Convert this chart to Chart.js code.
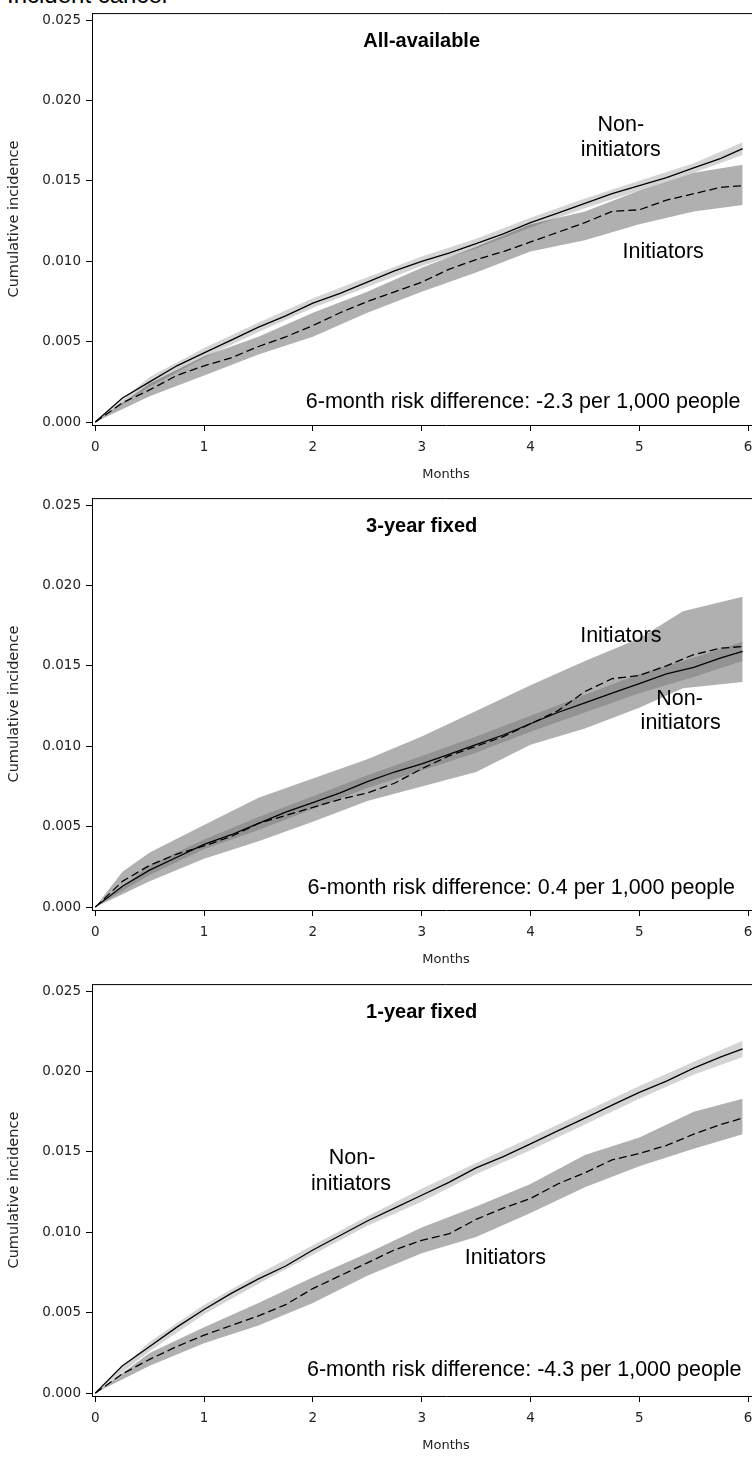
<!DOCTYPE html>
<html>
<head>
<meta charset="utf-8">
<script src="https://cdn.jsdelivr.net/npm/chart.js@4.4.2/dist/chart.umd.min.js"></script>
<style>
    html, body { margin: 0; padding: 0; background: #fff; }
    body { width: 752px; height: 1459px; overflow: hidden; position: relative; }
    .page-title {
        position: absolute; left: 7px; top: -17px;
        font: 24px "Liberation Sans", Arial, sans-serif; line-height: 24px;
        color: #000; white-space: nowrap;
    }
    .panel { position: absolute; left: 0; width: 830px; height: 482px; }
</style>
</head>
<body>
<div class="page-title">Incident cancer</div>
<div class="panel" style="top:0"><canvas id="chart-all" width="830" height="482"></canvas></div>
<div class="panel" style="top:485px"><canvas id="chart-3y" width="830" height="482"></canvas></div>
<div class="panel" style="top:971px"><canvas id="chart-1y" width="830" height="482"></canvas></div>
<script>
// --- données ---
const xTicks = [0, 1, 2, 3, 4, 5, 6];
const yTicks = [0, 0.005, 0.010, 0.015, 0.020, 0.025];

const lineMonths = [0, 0.25, 0.5, 0.75, 1, 1.25, 1.5, 1.75, 2, 2.25, 2.5, 2.75, 3, 3.25, 3.5, 3.75, 4, 4.25, 4.5, 4.75, 5, 5.25, 5.5, 5.75, 5.95];
const bandMonths = [0, 0.5, 1, 1.5, 2, 2.5, 3, 3.5, 4, 4.5, 5, 5.5, 5.95];

// All-available
const allNonInit = [0, 0.0015, 0.0025, 0.0035, 0.0043, 0.0051, 0.0059, 0.0066, 0.0074, 0.0080, 0.0087, 0.0094, 0.0100, 0.0105, 0.0111, 0.0117, 0.0124, 0.0130, 0.0136, 0.0142, 0.0147, 0.0152, 0.0158, 0.0164, 0.0170];
const allInit = [0, 0.0012, 0.0020, 0.0029, 0.0035, 0.0040, 0.0047, 0.0053, 0.0060, 0.0068, 0.0075, 0.0081, 0.0087, 0.0095, 0.0101, 0.0106, 0.0112, 0.0118, 0.0124, 0.0131, 0.0132, 0.0138, 0.0142, 0.0146, 0.0147];
const allNonInitUpper = [0, 0.0028, 0.0046, 0.0062, 0.0077, 0.0090, 0.0103, 0.0114, 0.0127, 0.0139, 0.0150, 0.0161, 0.0174];
const allNonInitLower = [0, 0.0022, 0.0040, 0.0056, 0.0071, 0.0084, 0.0097, 0.0108, 0.0121, 0.0133, 0.0144, 0.0155, 0.0166];
const allInitUpper = [0, 0.0024, 0.0041, 0.0053, 0.0068, 0.0081, 0.0096, 0.0109, 0.0123, 0.0131, 0.0144, 0.0155, 0.0160];
const allInitLower = [0, 0.0016, 0.0029, 0.0042, 0.0053, 0.0068, 0.0081, 0.0093, 0.0106, 0.0113, 0.0123, 0.0131, 0.0135];

// 3-year fixed
const fix3NonInit = [0, 0.0013, 0.0023, 0.0031, 0.0039, 0.0045, 0.0052, 0.0059, 0.0065, 0.0071, 0.0078, 0.0084, 0.0089, 0.0095, 0.0101, 0.0107, 0.0114, 0.0121, 0.0127, 0.0133, 0.0139, 0.0145, 0.0149, 0.0155, 0.0159];
const fix3Init = [0, 0.0016, 0.0026, 0.0033, 0.0038, 0.0044, 0.0052, 0.0057, 0.0062, 0.0067, 0.0071, 0.0077, 0.0086, 0.0094, 0.0100, 0.0106, 0.0114, 0.0122, 0.0134, 0.0142, 0.0144, 0.0150, 0.0157, 0.0161, 0.0162];
const fix3NonInitUpper = [0, 0.0026, 0.0042, 0.0056, 0.0069, 0.0082, 0.0094, 0.0106, 0.0119, 0.0132, 0.0145, 0.0155, 0.0165];
const fix3NonInitLower = [0, 0.0020, 0.0036, 0.0048, 0.0061, 0.0074, 0.0085, 0.0096, 0.0109, 0.0121, 0.0133, 0.0143, 0.0153];
const fix3InitMonths = [0, 0.25, 0.5, 1, 1.5, 2, 2.5, 3, 3.5, 4, 4.5, 5, 5.4, 5.95];
const fix3InitUpper = [0, 0.0022, 0.0034, 0.0051, 0.0068, 0.0080, 0.0092, 0.0106, 0.0122, 0.0138, 0.0153, 0.0167, 0.0184, 0.0193];
const fix3InitLower = [0, 0.0008, 0.0016, 0.0030, 0.0041, 0.0053, 0.0066, 0.0075, 0.0084, 0.0101, 0.0111, 0.0124, 0.0136, 0.0140];

// 1-year fixed
const fix1NonInit = [0, 0.0017, 0.0029, 0.0041, 0.0052, 0.0062, 0.0071, 0.0079, 0.0089, 0.0098, 0.0107, 0.0115, 0.0123, 0.0131, 0.0140, 0.0147, 0.0155, 0.0163, 0.0171, 0.0179, 0.0187, 0.0194, 0.0202, 0.0209, 0.0214];
const fix1Init = [0, 0.0012, 0.0021, 0.0029, 0.0036, 0.0042, 0.0048, 0.0055, 0.0065, 0.0073, 0.0081, 0.0089, 0.0095, 0.0099, 0.0108, 0.0115, 0.0121, 0.0130, 0.0137, 0.0145, 0.0149, 0.0154, 0.0161, 0.0167, 0.0171];
const fix1NonInitUpper = [0, 0.0032, 0.0055, 0.0074, 0.0092, 0.0110, 0.0127, 0.0143, 0.0159, 0.0175, 0.0191, 0.0206, 0.0219];
const fix1NonInitLower = [0, 0.0026, 0.0049, 0.0068, 0.0086, 0.0104, 0.0119, 0.0136, 0.0151, 0.0167, 0.0183, 0.0198, 0.0209];
const fix1InitUpper = [0, 0.0025, 0.0041, 0.0056, 0.0072, 0.0087, 0.0103, 0.0116, 0.0130, 0.0148, 0.0159, 0.0175, 0.0183];
const fix1InitLower = [0, 0.0017, 0.0031, 0.0042, 0.0056, 0.0073, 0.0087, 0.0097, 0.0112, 0.0128, 0.0141, 0.0152, 0.0161];

// --- styles ---
const tickFont = { family: '"DejaVu Sans", sans-serif', size: 13.5 };
const xTitleFont = { family: '"DejaVu Sans", sans-serif', size: 13 };
const yTitleFont = { family: '"DejaVu Sans", sans-serif', size: 14.5 };
const textFont = '"Liberation Sans", Arial, sans-serif';
const bandNonInit = 'rgba(0, 0, 0, 0.17)';
const bandInit = 'rgba(0, 0, 0, 0.31)';

const toPoints = (xs, ys) => xs.map((x, i) => ({ x, y: ys[i] }));

// Ligne du haut du cadre + textes dans la zone de tracé
const panelPlugin = {
    id: 'panelDecor',
    afterDatasetsDraw(chart, args, opts) {
        const { ctx, chartArea: a, scales } = chart;
        ctx.save();
        ctx.strokeStyle = '#000';
        ctx.lineWidth = 1;
        ctx.beginPath();
        ctx.moveTo(a.left, a.top + 0.5);
        ctx.lineTo(a.right - 0.5, a.top + 0.5);
        ctx.lineTo(a.right - 0.5, a.bottom);
        ctx.stroke();

        ctx.fillStyle = '#000';
        ctx.textBaseline = 'middle';
        (opts.items || []).forEach(item => {
            ctx.font = (item.bold ? 'bold ' : '') + item.size + 'px ' + textFont;
            ctx.textAlign = item.align || 'center';
            ctx.fillText(item.text, scales.x.getPixelForValue(item.x), scales.y.getPixelForValue(item.y));
        });
        ctx.restore();
    }
};

function renderPanel(id, series, labels) {
    const ctx = document.getElementById(id).getContext('2d');
    return new Chart(ctx, {
        type: 'line',
        data: {
            datasets: [
                {
                    label: 'Non-initiators',
                    data: toPoints(lineMonths, series.nonInit),
                    borderColor: '#000', borderWidth: 1.3, pointRadius: 0, fill: false, order: 0
                },
                {
                    label: 'Initiators',
                    data: toPoints(lineMonths, series.init),
                    borderColor: '#000', borderWidth: 1.3, borderDash: [8, 4], pointRadius: 0, fill: false, order: 0
                },
                {
                    label: 'Non-initiators upper',
                    data: toPoints(bandMonths, series.nonInitUpper),
                    borderWidth: 0, pointRadius: 0, fill: '+1', backgroundColor: bandNonInit, order: 2
                },
                {
                    label: 'Non-initiators lower',
                    data: toPoints(bandMonths, series.nonInitLower),
                    borderWidth: 0, pointRadius: 0, fill: false, order: 2
                },
                {
                    label: 'Initiators upper',
                    data: toPoints(series.initMonths || bandMonths, series.initUpper),
                    borderWidth: 0, pointRadius: 0, fill: '+1', backgroundColor: bandInit, order: 1
                },
                {
                    label: 'Initiators lower',
                    data: toPoints(series.initMonths || bandMonths, series.initLower),
                    borderWidth: 0, pointRadius: 0, fill: false, order: 1
                }
            ]
        },
        options: {
            responsive: false,
            animation: false,
            layout: { padding: { left: 0, right: 30, top: 10, bottom: 0 } },
            plugins: {
                legend: { display: false },
                tooltip: { enabled: false },
                panelDecor: { items: labels }
            },
            scales: {
                x: {
                    type: 'linear',
                    min: -0.03,
                    max: 6.477,
                    afterBuildTicks: s => { s.ticks = xTicks.map(v => ({ value: v })); },
                    afterFit: s => { s.height = 57; },
                    grid: { drawOnChartArea: false, drawTicks: true, tickLength: 6, color: '#000', lineWidth: 1 },
                    border: { display: true, color: '#000', width: 1 },
                    ticks: { font: tickFont, color: '#222', padding: 8, maxRotation: 0, autoSkip: false, callback: v => String(v) },
                    title: { display: true, text: 'Months', font: xTitleFont, color: '#222', padding: 0 }
                },
                y: {
                    type: 'linear',
                    min: -0.00018,
                    max: 0.02543,
                    afterBuildTicks: s => { s.ticks = yTicks.map(v => ({ value: v })); },
                    afterFit: s => { s.width = 92; },
                    grid: { drawOnChartArea: false, drawTicks: true, tickLength: 6, color: '#000', lineWidth: 1 },
                    border: { display: true, color: '#000', width: 1 },
                    ticks: { font: tickFont, color: '#222', padding: 5, autoSkip: false, callback: v => v.toFixed(3) },
                    title: { display: true, text: 'Cumulative incidence', font: yTitleFont, color: '#222', padding: { top: 6, bottom: 0 } }
                }
            }
        },
        plugins: [panelPlugin]
    });
}

renderPanel('chart-all', {
    nonInit: allNonInit, init: allInit,
    nonInitUpper: allNonInitUpper, nonInitLower: allNonInitLower,
    initUpper: allInitUpper, initLower: allInitLower
}, [
    { text: 'All-available', x: 3.0, y: 0.02365, size: 20, bold: true },
    { text: 'Non-', x: 4.83, y: 0.01847, size: 21.5 },
    { text: 'initiators', x: 4.83, y: 0.01693, size: 21.5 },
    { text: 'Initiators', x: 5.22, y: 0.01058, size: 21.5 },
    { text: '6-month risk difference: -2.3 per 1,000 people', x: 5.93, y: 0.00127, size: 21.5, align: 'right' }
]);

renderPanel('chart-3y', {
    nonInit: fix3NonInit, init: fix3Init,
    nonInitUpper: fix3NonInitUpper, nonInitLower: fix3NonInitLower,
    initMonths: fix3InitMonths, initUpper: fix3InitUpper, initLower: fix3InitLower
}, [
    { text: '3-year fixed', x: 3.0, y: 0.02365, size: 20, bold: true },
    { text: 'Initiators', x: 4.83, y: 0.01684, size: 21.5 },
    { text: 'Non-', x: 5.37, y: 0.01295, size: 21.5 },
    { text: 'initiators', x: 5.38, y: 0.01142, size: 21.5 },
    { text: '6-month risk difference: 0.4 per 1,000 people', x: 5.88, y: 0.00118, size: 21.5, align: 'right' }
]);

renderPanel('chart-1y', {
    nonInit: fix1NonInit, init: fix1Init,
    nonInitUpper: fix1NonInitUpper, nonInitLower: fix1NonInitLower,
    initUpper: fix1InitUpper, initLower: fix1InitLower
}, [
    { text: '1-year fixed', x: 3.0, y: 0.02365, size: 20, bold: true },
    { text: 'Non-', x: 2.36, y: 0.01459, size: 21.5 },
    { text: 'initiators', x: 2.35, y: 0.01299, size: 21.5 },
    { text: 'Initiators', x: 3.77, y: 0.00838, size: 21.5 },
    { text: '6-month risk difference: -4.3 per 1,000 people', x: 5.94, y: 0.00146, size: 21.5, align: 'right' }
]);
</script>
</body>
</html>
